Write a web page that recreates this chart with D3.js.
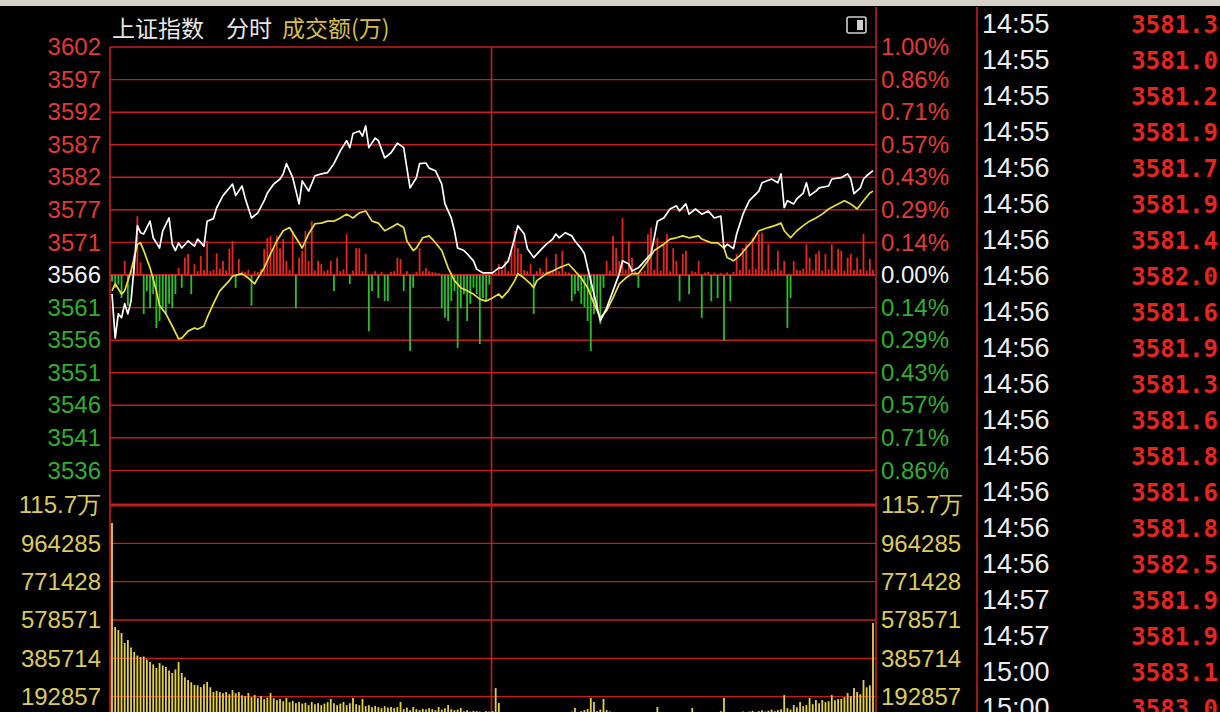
<!DOCTYPE html>
<html><head><meta charset="utf-8">
<script src="https://cdn.jsdelivr.net/npm/d3@7/dist/d3.min.js"></script>
<style>html,body{margin:0;padding:0;background:#000;overflow:hidden}svg{display:block}</style>
</head><body><svg id="c" width="1220" height="712"></svg>
<script>
// ---------- data ----------
const baseClose = 3566.38;
const pctTicks = [1.0, 0.857, 0.714, 0.571, 0.429, 0.286, 0.143, 0, -0.143, -0.286, -0.429, -0.571, -0.714, -0.857];
const priceTickLabels = ["3602","3597","3592","3587","3582","3577","3571","3566","3561","3556","3551","3546","3541","3536"];
const pctTickLabels = ["1.00%","0.86%","0.71%","0.57%","0.43%","0.29%","0.14%","0.00%","0.14%","0.29%","0.43%","0.57%","0.71%","0.86%"];
const volMax = 1157142;
const volTicks = [1157142, 964285, 771428, 578571, 385714, 192857];
const volTickLabels = ["115.7万","964285","771428","578571","385714","192857"];

// [minute index, index value]
const indexLine = [[0,3563.4],[1,3556.5],[2,3560.3],[3,3559.7],[4,3561.9],[5,3560.3],[6,3562.3],[7,3567.8],[8,3574.1],[9,3573.0],[10,3572.8],[12,3574.8],[13,3572.2],[15,3570.6],[16,3573.3],[18,3575.3],[19,3571.2],[20,3570.2],[21,3571.4],[22,3570.6],[24,3571.7],[26,3570.9],[27,3572.0],[29,3570.9],[30,3574.8],[32,3575.2],[33,3576.9],[35,3578.8],[37,3580.0],[38,3580.6],[39,3578.8],[41,3580.3],[42,3578.4],[44,3575.3],[46,3576.1],[48,3578.0],[49,3579.2],[51,3580.6],[53,3581.4],[54,3582.2],[55,3583.8],[57,3581.6],[59,3577.5],[60,3581.1],[62,3579.5],[64,3581.9],[66,3582.2],[68,3582.4],[70,3583.8],[72,3585.8],[74,3587.4],[75,3586.3],[76,3588.5],[78,3588.9],[79,3588.1],[80,3589.7],[81,3586.3],[83,3587.8],[84,3587.4],[86,3584.7],[88,3585.5],[90,3587.0],[92,3586.3],[93,3583.1],[94,3580.0],[96,3581.6],[97,3583.8],[99,3583.9],[100,3583.1],[102,3582.7],[104,3580.6],[105,3577.5],[107,3575.3],[108,3573.3],[109,3570.6],[111,3570.2],[112,3569.7],[114,3568.6],[115,3567.3],[117,3566.7],[119,3566.7],[120,3566.7],[122,3567.5],[123,3567.5],[125,3568.6],[127,3572.2],[128,3574.1],[130,3572.8],[131,3570.5],[133,3569.1],[135,3570.2],[137,3571.2],[139,3572.0],[140,3572.8],[141,3572.2],[143,3573.0],[145,3572.5],[146,3571.7],[148,3570.5],[149,3569.7],[150,3567.5],[152,3563.4],[154,3559.2],[156,3561.2],[158,3563.9],[160,3566.6],[161,3568.6],[163,3568.1],[164,3567.0],[166,3567.5],[168,3568.6],[170,3569.7],[171,3572.2],[172,3574.8],[174,3575.3],[176,3576.7],[178,3577.2],[179,3576.4],[181,3577.5],[182,3575.9],[184,3576.7],[186,3575.9],[188,3576.4],[190,3575.3],[192,3575.6],[193,3570.6],[194,3571.2],[196,3570.5],[197,3572.8],[199,3575.9],[201,3578.0],[204,3579.5],[205,3580.8],[208,3581.4],[210,3580.8],[211,3582.2],[212,3576.9],[213,3578.0],[215,3577.5],[216,3578.3],[218,3579.2],[219,3580.8],[220,3578.8],[222,3579.5],[223,3580.0],[226,3580.3],[227,3581.4],[230,3581.6],[232,3582.2],[233,3581.4],[234,3579.1],[236,3580.0],[237,3581.4],[238,3581.9],[240,3582.7]];

// [minute index, leading (unweighted) index value]
const leadLine = [[0,3563.9],[1,3565.0],[3,3563.4],[4,3563.9],[6,3567.0],[8,3571.2],[9,3571.4],[10,3570.2],[12,3567.5],[14,3563.9],[15,3561.6],[17,3560.3],[19,3558.4],[21,3556.4],[22,3556.5],[24,3557.6],[26,3558.1],[27,3557.9],[29,3558.4],[30,3559.7],[32,3561.9],[34,3563.9],[37,3565.5],[38,3566.2],[41,3566.6],[43,3565.9],[45,3565.0],[46,3565.9],[48,3567.5],[50,3569.7],[52,3571.7],[54,3573.3],[56,3573.8],[58,3572.2],[60,3570.6],[62,3572.8],[64,3574.4],[66,3574.5],[68,3574.8],[70,3574.8],[72,3575.3],[74,3575.9],[76,3575.3],[78,3576.1],[80,3576.4],[82,3574.8],[84,3574.5],[86,3573.3],[88,3573.8],[90,3574.4],[92,3573.8],[93,3571.7],[95,3570.2],[96,3570.6],[98,3572.2],[100,3572.5],[101,3572.0],[104,3570.2],[106,3567.5],[108,3565.5],[110,3564.4],[112,3563.9],[114,3563.4],[116,3562.6],[118,3562.3],[120,3562.8],[122,3563.4],[123,3562.8],[125,3563.9],[127,3565.5],[128,3566.6],[130,3565.9],[132,3565.0],[133,3564.4],[134,3565.5],[137,3566.6],[139,3567.0],[141,3567.5],[144,3568.1],[146,3567.0],[148,3565.9],[150,3564.4],[152,3561.9],[154,3559.7],[156,3560.8],[158,3562.8],[160,3565.0],[162,3565.9],[164,3566.6],[166,3566.6],[169,3568.6],[171,3570.2],[174,3571.2],[176,3572.0],[178,3572.2],[180,3572.5],[182,3572.2],[185,3572.5],[186,3572.0],[189,3571.4],[191,3571.4],[193,3570.6],[194,3569.1],[196,3568.6],[198,3569.4],[200,3570.6],[202,3571.7],[204,3573.3],[207,3573.8],[209,3574.1],[211,3574.5],[212,3573.3],[214,3572.2],[216,3573.3],[218,3574.1],[220,3574.8],[222,3575.3],[224,3575.9],[226,3576.7],[229,3577.5],[231,3578.0],[233,3577.5],[235,3576.7],[237,3578.0],[239,3579.2],[240,3579.5]];

// per-minute buy/sell force bars (index points, + red / - green)
const flowBars = [
 -1.0,-2.0,-1.5,-3.6,2.2,-4.8,0.8,3.3,9.2,2.0,
 -6.1,-2.5,-5.2,-3.0,-8.3,-7.2,-5.2,-6.1,-4.5,-5.2,
 -3.0,1.1,-2.0,2.7,3.3,-3.0,1.7,0.6,3.0,0.8,
 5.3,0.6,0.8,3.4,1.0,2.2,0.7,4.1,5.3,-2.0,
 2.5,0.6,0.5,0.8,-4.8,0.6,0.5,0.9,4.1,5.8,
 6.1,4.2,6.1,4.2,5.6,2.2,0.8,6.9,-5.2,2.7,
 3.8,6.9,2.2,8.4,0.7,2.2,1.7,0.6,0.8,2.2,
 -2.5,2.7,0.6,0.9,6.4,-1.4,0.7,4.2,4.2,0.6,
 3.3,-8.8,-2.5,0.6,-3.6,0.5,-4.1,-4.1,0.5,0.6,
 2.7,2.5,-2.5,0.6,-11.9,-2.0,0.5,4.2,0.6,1.1,
 0.6,0.5,0.4,0.3,-5.2,-6.7,-7.2,-4.1,-2.5,-11.4,
 -5.2,-3.0,-7.2,-4.5,-2.0,-3.0,-10.8,-3.6,-4.1,-1.5,
 0.3,0.4,1.7,0.8,2.2,0.6,3.8,6.9,4.2,3.3,
 0.8,0.6,1.7,-6.1,0.6,1.1,0.5,2.7,0.6,0.7,
 3.3,0.6,3.8,0.5,0.4,-4.1,-3.0,-2.5,-4.5,-5.0,
 -7.2,-11.9,-6.1,-5.0,-7.7,-2.0,2.2,0.7,6.1,4.2,
 2.2,8.9,0.8,5.3,2.7,0.6,-2.0,0.5,0.7,6.4,
 7.4,0.8,5.8,0.7,4.8,6.4,0.6,4.2,2.2,-4.1,
 3.3,3.8,-3.0,0.6,0.5,2.2,-6.7,0.4,0.5,-4.1,
 0.4,-3.6,0.3,-10.3,0.4,-4.1,0.5,3.3,0.8,4.2,
 4.8,0.9,5.8,1.0,6.4,6.6,0.8,4.8,0.7,0.9,
 3.8,0.7,2.2,-8.3,-3.6,2.2,0.8,0.7,1.0,4.8,
 2.7,0.8,3.3,3.8,0.7,3.3,0.9,4.8,0.8,4.1,
 3.8,0.7,2.7,3.3,0.8,2.7,0.9,6.4,0.7,2.5,
 0.8];

// per-minute turnover, thousands
const volumeK = [
 1066,543,528,513,463,478,440,418,400,392,
 395,380,367,355,337,362,350,342,325,312,
 330,367,312,290,277,265,252,250,241,255,
 267,240,216,222,216,210,216,205,226,210,
 216,200,195,211,190,201,185,196,180,188,
 211,185,175,181,170,186,165,172,160,166,
 158,162,150,166,155,160,150,158,165,181,
 160,150,158,166,150,160,186,155,150,181,
 145,150,140,146,140,135,145,138,141,135,
 140,166,130,138,125,141,130,125,132,128,
 135,130,125,141,128,135,151,130,125,128,
 136,120,125,118,122,120,118,115,120,118,
 120,236,161,115,110,108,112,105,110,108,
 105,110,102,108,100,104,98,106,100,103,
 108,112,105,115,110,118,136,112,120,125,
 130,186,166,120,128,181,125,118,112,115,
 108,112,105,110,102,106,100,108,104,110,
 106,112,141,108,104,110,102,106,100,104,
 108,110,104,136,106,112,108,104,110,106,
 112,108,120,186,115,110,108,112,115,118,
 112,118,122,115,120,125,118,122,128,120,
 125,130,201,135,128,151,140,166,145,150,
 186,155,176,160,176,165,170,201,175,181,
 181,190,211,195,236,216,205,277,240,250,
 563];

const tickTimes = ["14:55","14:55","14:55","14:55","14:56","14:56","14:56","14:56","14:56","14:56","14:56","14:56","14:56","14:56","14:56","14:56","14:57","14:57","15:00","15:00"];
const tickPrices = ["3581.3","3581.0","3581.2","3581.9","3581.7","3581.9","3581.4","3582.0","3581.6","3581.9","3581.3","3581.6","3581.8","3581.6","3581.8","3582.5","3581.9","3581.9","3583.1","3583.0"];

// ---------- drawing ----------
const svg = d3.select("#c");
const RED = "#c81c1c", LBL_RED = "#e23a34", LBL_GREEN = "#2fae2f", VOL_LBL = "#dccb58";
const F = "'Liberation Sans', Arial, sans-serif";

const x = d3.scaleLinear().domain([0, 240]).range([112, 873]);
const yPct = d3.scaleLinear().domain([-1, 1]).range([503, 47]);
const yPrice = d3.scaleLinear().domain([baseClose * 0.99, baseClose * 1.01]).range([503, 47]);
const yVol = d3.scaleLinear().domain([0, volMax]).range([735, 505]);

svg.append("rect").attr("width", 1220).attr("height", 712).attr("fill", "#000");
svg.append("rect").attr("width", 1220).attr("height", 6).attr("fill", "#d6d2ca");

const L = 110, R = 876;
// horizontal price grid
svg.append("g").selectAll("line").data(pctTicks).join("line")
  .attr("x1", L).attr("x2", R)
  .attr("y1", d => yPct(d)).attr("y2", d => yPct(d))
  .attr("stroke", RED).attr("stroke-width", d => d === 0 ? 2.2 : 1.4);
// volume grid
svg.append("g").selectAll("line").data(volTicks).join("line")
  .attr("x1", L).attr("x2", R)
  .attr("y1", d => yVol(d)).attr("y2", d => yVol(d))
  .attr("stroke", RED).attr("stroke-width", d => d === volMax ? 3 : 1.4);
// verticals
[[L, 47], [x(120) - 1, 47], [R, 7], [977, 7]].forEach(([xx, y0]) => {
  svg.append("line").attr("x1", xx).attr("x2", xx).attr("y1", y0).attr("y2", 712)
    .attr("stroke", RED).attr("stroke-width", 1.6);
});

// axes
function styleAxis(g, colorFn) {
  g.select(".domain").remove();
  g.selectAll("text").attr("font-family", F).attr("font-size", 24)
    .attr("fill", colorFn);
}
const pctColor = (d) => d > 0 ? LBL_RED : (d < 0 ? LBL_GREEN : "#f2f2f2");
svg.append("g").attr("transform", "translate(101,0)")
  .call(d3.axisLeft(yPct).tickValues(pctTicks).tickSize(0).tickPadding(0)
    .tickFormat((d, i) => priceTickLabels[i]))
  .call(g => styleAxis(g, pctColor));
svg.append("g").attr("transform", "translate(881,0)")
  .call(d3.axisRight(yPct).tickValues(pctTicks).tickSize(0).tickPadding(0)
    .tickFormat((d, i) => pctTickLabels[i]))
  .call(g => styleAxis(g, pctColor));
svg.append("g").attr("transform", "translate(101,0)")
  .call(d3.axisLeft(yVol).tickValues(volTicks).tickSize(0).tickPadding(0)
    .tickFormat((d, i) => volTickLabels[i]))
  .call(g => styleAxis(g, VOL_LBL));
svg.append("g").attr("transform", "translate(881,0)")
  .call(d3.axisRight(yVol).tickValues(volTicks).tickSize(0).tickPadding(0)
    .tickFormat((d, i) => volTickLabels[i]))
  .call(g => styleAxis(g, VOL_LBL));

// flow bars
svg.append("g").selectAll("line").data(flowBars).join("line")
  .attr("x1", (d, i) => x(i)).attr("x2", (d, i) => x(i))
  .attr("y1", yPrice(baseClose)).attr("y2", d => yPrice(baseClose + d))
  .attr("stroke", d => d >= 0 ? "#e8261c" : "#27c227").attr("stroke-width", 1.8);

// volume bars
svg.append("g").selectAll("line").data(volumeK).join("line")
  .attr("x1", (d, i) => x(i)).attr("x2", (d, i) => x(i))
  .attr("y1", yVol(0)).attr("y2", d => yVol(d * 1000))
  .attr("stroke", "#e6d244").attr("stroke-width", 1.8);

// lines
const lineGen = d3.line().x(d => x(d[0])).y(d => yPrice(d[1]));
svg.append("path").datum(leadLine).attr("d", lineGen)
  .attr("fill", "none").attr("stroke", "#ebdf3c").attr("stroke-width", 1.7).attr("stroke-linejoin", "round");
svg.append("path").datum(indexLine).attr("d", lineGen)
  .attr("fill", "none").attr("stroke", "#ffffff").attr("stroke-width", 1.7).attr("stroke-linejoin", "round");

// header
const CJK = "'Noto Sans CJK SC', sans-serif";
svg.append("text").attr("x", 112).attr("y", 37).attr("font-family", CJK).attr("font-size", 23)
  .attr("fill", "#e8e8e8").text("上证指数");
svg.append("text").attr("x", 226).attr("y", 37).attr("font-family", CJK).attr("font-size", 23)
  .attr("fill", "#e8e8e8").text("分时");
svg.append("text").attr("x", 282).attr("y", 37).attr("font-family", CJK).attr("font-size", 23)
  .attr("fill", "#d6bd46").text("成交额(万)");
// small icon
svg.append("rect").attr("x", 847).attr("y", 17).attr("width", 19).attr("height", 16).attr("rx", 2)
  .attr("fill", "none").attr("stroke", "#d0d0d0").attr("stroke-width", 1.6);
svg.append("rect").attr("x", 857).attr("y", 20).attr("width", 6).attr("height", 10).attr("fill", "#d0d0d0");

// tick list
const list = svg.append("g");
list.selectAll("text.t").data(tickTimes).join("text").attr("class", "t")
  .attr("x", 982).attr("y", (d, i) => 33 + i * 36)
  .attr("font-family", F).attr("font-size", 27).attr("fill", "#ededed").text(d => d);
list.selectAll("text.p").data(tickPrices).join("text").attr("class", "p")
  .attr("x", 1218).attr("y", (d, i) => 33 + i * 36).attr("text-anchor", "end")
  .attr("font-family", "'DejaVu Sans Mono', monospace").attr("font-size", 24).attr("font-weight", "bold")
  .attr("fill", "#e4261e").text(d => d);
</script></body></html>
